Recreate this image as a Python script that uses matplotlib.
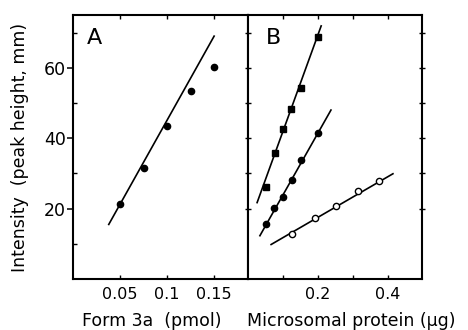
import numpy as np
import matplotlib.pyplot as plt

# Panel A: Form 3a (pmol)
a_x = [0.05, 0.075, 0.1, 0.125, 0.15]
a_y = [21.4, 31.5, 43.4, 53.5, 60.3]
a_fit_x = [0.038, 0.15]
a_fit_y = [15.5, 69.0]

# Panel B: microsomal protein (ug), three series
sq_x = [0.05, 0.077, 0.1, 0.123, 0.151, 0.2]
sq_y = [26.0, 35.9, 42.6, 48.4, 54.3, 68.8]
sq_fit_x = [0.026, 0.209]
sq_fit_y = [21.7, 71.9]

fc_x = [0.05, 0.075, 0.1, 0.125, 0.15, 0.2]
fc_y = [15.7, 20.3, 23.4, 28.0, 33.9, 41.5]
fc_fit_x = [0.034, 0.237]
fc_fit_y = [12.3, 48.0]

oc_x = [0.125, 0.19, 0.25, 0.315, 0.375]
oc_y = [12.9, 17.4, 20.6, 25.1, 27.7]
oc_fit_x = [0.066, 0.414]
oc_fit_y = [9.8, 29.9]

plt.rcParams['font.family'] = 'DejaVu Sans'
fig = plt.figure(figsize=(4.68, 3.30), dpi=100)

L, M, R = 73 / 468, 248 / 468, 422 / 468
B, T = 1 - 279 / 330, 1 - 15 / 330
axA = fig.add_axes([L, B, M - L, T - B])
axB = fig.add_axes([M, B, R - M, T - B])

lw = 1.2
for ax in (axA, axB):
    for s in ax.spines.values():
        s.set_linewidth(1.5)
    ax.set_ylim(0, 75)

# panel A
axA.plot(a_fit_x, a_fit_y, color='black', lw=lw)
axA.plot(a_x, a_y, 'o', color='black', ms=4.5)
axA.set_xlim(0, 0.186)
axA.set_xticks([0.05, 0.1, 0.15])
axA.set_xticklabels(['0.05', '0.1', '0.15'])
axA.set_yticks([20, 40, 60])
axA.set_yticks([10, 30, 50, 70], minor=True)
axA.tick_params(axis='y', which='major', direction='out', length=4, width=1.1,
                labelsize=12.5, pad=1)
axA.tick_params(axis='y', which='minor', direction='in', length=3, width=1.0)
axA.tick_params(axis='x', which='major', direction='in', length=3, width=1.0,
                top=True, labelsize=11.5, pad=6)
axA.text(0.08, 0.95, 'A', transform=axA.transAxes, fontsize=16, va='top')

# panel B
axB.plot(sq_fit_x, sq_fit_y, color='black', lw=lw)
axB.plot(sq_x, sq_y, 's', color='black', ms=4.5)
axB.plot(fc_fit_x, fc_fit_y, color='black', lw=lw)
axB.plot(fc_x, fc_y, 'o', color='black', ms=4.5)
axB.plot(oc_fit_x, oc_fit_y, color='black', lw=lw)
axB.plot(oc_x, oc_y, 'o', mfc='white', mec='black', mew=1.0, ms=4.5)
axB.set_xlim(0, 0.497)
axB.set_xticks([0.2, 0.4])
axB.set_xticklabels(['0.2', '0.4'])
axB.set_xticks([0.1, 0.3], minor=True)
axB.tick_params(axis='x', which='both', direction='in', length=3, width=1.0,
                top=True, labelsize=11.5, pad=6)
axB.set_yticks([20, 30, 40, 50, 60, 70])
axB.tick_params(axis='y', which='major', direction='inout', length=5, width=1.0,
                right=True, labelleft=False)
axB.text(0.1, 0.95, 'B', transform=axB.transAxes, fontsize=16, va='top')

fig.text(0.325, 1 - 326 / 330, 'Form 3a  (pmol)', fontsize=12.5, ha='center',
         va='baseline')
fig.text(0.75, 1 - 326 / 330, 'Microsomal protein (\u00b5g)', fontsize=12.5,
         ha='center', va='baseline')
fig.text(0.043, (B + T) / 2, 'Intensity  (peak height, mm)', fontsize=12.5,
         rotation=90, ha='center', va='center')

fig.savefig('out.png', dpi=100)
